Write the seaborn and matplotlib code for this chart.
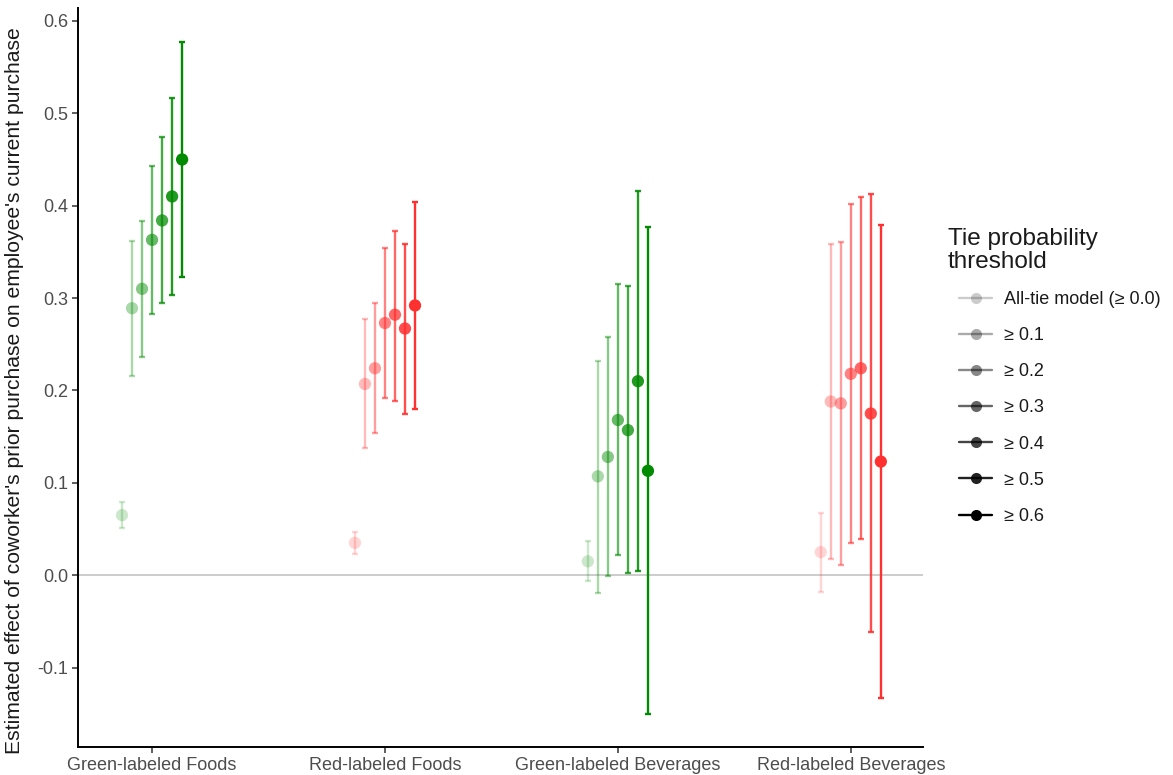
import numpy as np
import pandas as pd
import matplotlib
matplotlib.use("Agg")
import matplotlib.pyplot as plt
from matplotlib.lines import Line2D
import seaborn as sns

categories = ["Green-labeled Foods", "Red-labeled Foods",
              "Green-labeled Beverages", "Red-labeled Beverages"]
thresholds = ["All-tie model (\u2265 0.0)", "\u2265 0.1", "\u2265 0.2", "\u2265 0.3",
              "\u2265 0.4", "\u2265 0.5", "\u2265 0.6"]

green_foods_est = [0.065, 0.289, 0.310, 0.363, 0.384, 0.410, 0.450]
green_foods_lo = [0.051, 0.216, 0.236, 0.283, 0.295, 0.303, 0.323]
green_foods_hi = [0.079, 0.362, 0.383, 0.443, 0.474, 0.517, 0.577]

red_foods_est = [0.035, 0.207, 0.224, 0.273, 0.282, 0.267, 0.292]
red_foods_lo = [0.023, 0.138, 0.154, 0.192, 0.189, 0.175, 0.180]
red_foods_hi = [0.047, 0.277, 0.295, 0.354, 0.373, 0.358, 0.404]

green_bev_est = [0.015, 0.107, 0.128, 0.168, 0.157, 0.210, 0.113]
green_bev_lo = [-0.006, -0.019, -0.001, 0.022, 0.002, 0.004, -0.150]
green_bev_hi = [0.037, 0.232, 0.258, 0.315, 0.313, 0.416, 0.377]

red_bev_est = [0.025, 0.188, 0.186, 0.218, 0.224, 0.175, 0.123]
red_bev_lo = [-0.018, 0.018, 0.011, 0.035, 0.039, -0.062, -0.133]
red_bev_hi = [0.067, 0.358, 0.361, 0.402, 0.409, 0.413, 0.379]

cat_colors = ["#008B00", "#FF3030", "#008B00", "#FF3030"]
alphas = np.linspace(0.2, 1.0, len(thresholds))

rows = []
for ci, (cat, est, lo, hi) in enumerate(zip(
        categories,
        [green_foods_est, red_foods_est, green_bev_est, red_bev_est],
        [green_foods_lo, red_foods_lo, green_bev_lo, red_bev_lo],
        [green_foods_hi, red_foods_hi, green_bev_hi, red_bev_hi])):
    for ti, th in enumerate(thresholds):
        rows.append(dict(category=cat, cat_idx=ci, threshold=th, th_idx=ti,
                         est=est[ti], lo=lo[ti], hi=hi[ti]))
df = pd.DataFrame(rows)
dodge = 0.043
df["x"] = df["cat_idx"] + (df["th_idx"] - 3) * dodge

sns.set_theme(style="ticks")
plt.rcParams["font.family"] = ["Liberation Sans", "DejaVu Sans"]
plt.rcParams["axes.unicode_minus"] = False

fig = plt.figure(figsize=(11.73, 7.75), dpi=100)
ax = fig.add_axes([78 / 1173, 1 - 747 / 775, (923 - 78) / 1173, (747 - 8) / 775])

ax.axhline(0, color="#BEBEBE", lw=1.1, zorder=1)

for _, r in df.iterrows():
    col = matplotlib.colors.to_rgba(cat_colors[r.cat_idx], alphas[r.th_idx])
    ax.errorbar([r.x], [r.est], yerr=[[r.est - r.lo], [r.hi - r.est]],
                fmt="none", ecolor=col, elinewidth=1.7, capsize=2.2, capthick=1.7,
                zorder=2)

for ti in range(len(thresholds)):
    sub = df[df.th_idx == ti]
    sns.scatterplot(data=sub, x="x", y="est", hue="cat_idx",
                    palette={i: c for i, c in enumerate(cat_colors)},
                    alpha=alphas[ti], s=78, edgecolor="none", legend=False,
                    ax=ax, zorder=3)

ax.set_xlim(-0.318, 3.31)
ax.set_ylim(-0.186, 0.614)
ax.set_xticks(range(len(categories)))
ax.set_xticklabels(categories)
ax.set_yticks(np.arange(-0.1, 0.61, 0.1))
ax.set_yticklabels([f"{v:.1f}" for v in np.arange(-0.1, 0.61, 0.1)])
ax.tick_params(axis="both", colors="#333333", labelcolor="#4D4D4D",
               labelsize=13, length=4, width=1.1, pad=3)
ax.set_xlabel("")
ax.set_ylabel("Estimated effect of coworker's prior purchase on employee's current purchase",
              fontsize=15.2, color="#1A1A1A", labelpad=5)
ax.yaxis.set_label_coords(-0.064, 0.482)
for side in ["top", "right"]:
    ax.spines[side].set_visible(False)
for side in ["left", "bottom"]:
    ax.spines[side].set_color("black")
    ax.spines[side].set_linewidth(1.4)

fig.text(948 / 1173, 1 - 228 / 775, "Tie probability\nthreshold", ha="left", va="top",
         fontsize=17.5, color="#1A1A1A", linespacing=1.05)

handles = [Line2D([0], [0], color="black", alpha=a, lw=1.7, marker="o",
                  markersize=8, markeredgewidth=0) for a in alphas]
leg = fig.legend(handles, thresholds, loc="upper left",
                 bbox_to_anchor=(959 / 1173, 1 - 291 / 775),
                 frameon=False, fontsize=13, labelspacing=1.06, handlelength=1.85,
                 handletextpad=0.65, borderpad=0, borderaxespad=0)
for t in leg.get_texts():
    t.set_color("#1A1A1A")

fig.savefig("out.png", dpi=100)
